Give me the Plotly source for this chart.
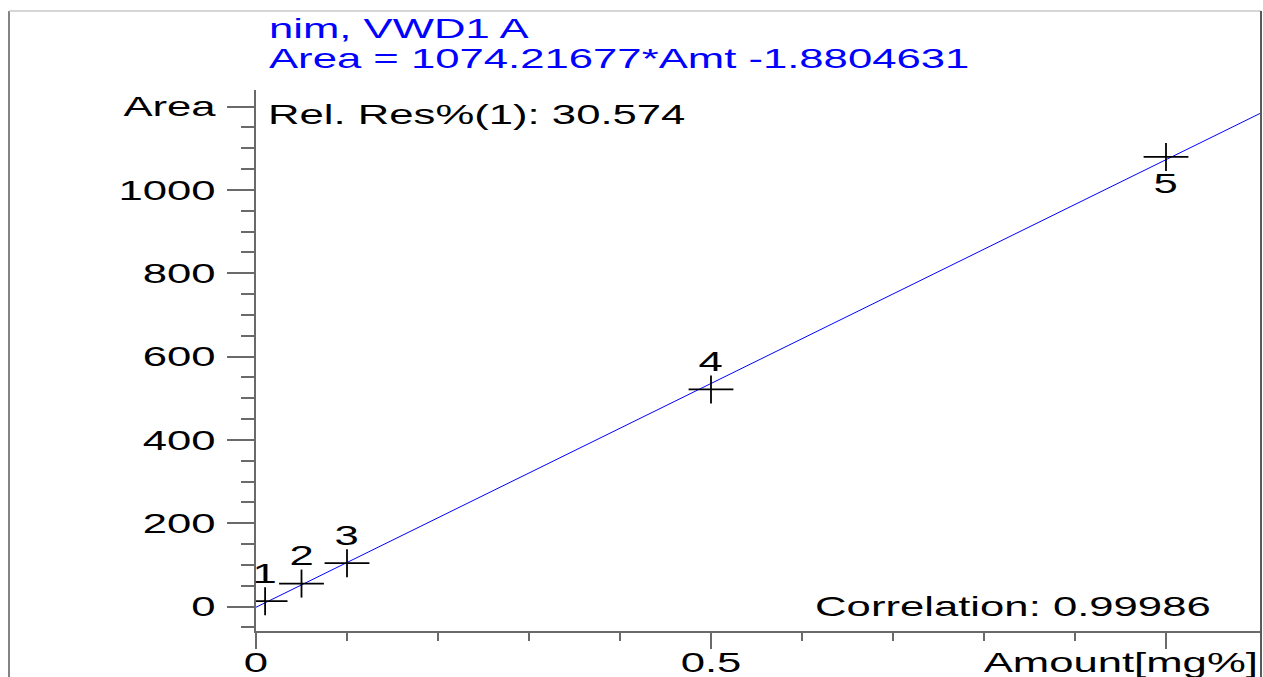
import plotly.graph_objects as go

# Calibration standards
amounts = [0.01, 0.05, 0.1, 0.5, 1.0]
areas = [12.8, 55, 104, 521, 1079]
point_labels = ["1", "2", "3", "4", "5"]
label_above = [True, True, True, True, False]

# Regression results
signal_name = "nim, VWD1 A"
slope = 1074.21677
intercept = -1.8804631
rel_res = "30.574"
correlation = "0.99986"

# Axis ticks
y_major = [0, 200, 400, 600, 800, 1000, 1200]
y_major_text = ["0", "200", "400", "600", "800", "1000", "Area"]
y_minor = [-50, 50, 100, 150, 250, 300, 350, 450, 500, 550, 650, 700, 750,
           850, 900, 950, 1050, 1100, 1150]
x_major = [0, 0.5, 1.0]
x_major_text = ["0", "0.5", ""]
x_minor = [0.1, 0.2, 0.3, 0.4, 0.6, 0.7, 0.8, 0.9]
x_title = "Amount[mg%]"

W, H = 1263, 677
ML, MR, MT, MB = 256, 2, 90, 46
PW, PH = W - ML - MR, H - MT - MB

X_RANGE = [0, 1.1044]
Y_RANGE = [-58.8, 1239.6]


def fx(px):
    return (px - ML) / PW


def fy(py):
    return (H - MB - py) / PH


FONT = "Liberation Sans, Arial, sans-serif"
AXIS_GRAY = "#6a6a6a"

fig = go.Figure()

# fitted calibration line across the whole amount range
fit_x = [X_RANGE[0], X_RANGE[1]]
fit_y = [slope * v + intercept for v in fit_x]
fig.add_trace(go.Scatter(x=fit_x, y=fit_y, mode="lines",
                         line=dict(color="#0000ff", width=1),
                         hoverinfo="skip"))

# crosses for the standards (wide horizontal arm, shorter vertical arm)
fig.add_trace(go.Scatter(x=amounts, y=areas, mode="markers",
                         marker=dict(symbol="line-ew", size=32,
                                     line=dict(color="black", width=1.8))))
fig.add_trace(go.Scatter(x=amounts, y=areas, mode="markers",
                         marker=dict(symbol="line-ns", size=20,
                                     line=dict(color="black", width=1.8))))

annotations = []
for ax_, ay_, lab, up in zip(amounts, areas, point_labels, label_above):
    annotations.append(dict(x=ax_, y=ay_, xref="x", yref="y", text=lab,
                            showarrow=False, xanchor="center",
                            yanchor="middle", yshift=28 if up else -27,
                            font=dict(family=FONT, size=28, color="black")))

blue_font = dict(family=FONT, size=28, color="#0000ff")
black_font = dict(family=FONT, size=28, color="black")
annotations += [
    dict(x=fx(267), y=fy(28), xref="paper", yref="paper", text=signal_name,
         showarrow=False, xanchor="left", yanchor="middle", align="left",
         font=blue_font),
    dict(x=fx(267), y=fy(59), xref="paper", yref="paper",
         text=f"Area = {slope}*Amt {intercept}",
         showarrow=False, xanchor="left", yanchor="middle", align="left",
         font=blue_font),
    dict(x=fx(266), y=fy(114), xref="paper", yref="paper",
         text=f"Rel. Res%(1): {rel_res}",
         showarrow=False, xanchor="left", yanchor="middle", align="left",
         font=black_font),
    dict(x=fx(1213), y=fy(606), xref="paper", yref="paper",
         text=f"Correlation: {correlation}",
         showarrow=False, xanchor="right", yanchor="middle", align="right",
         font=black_font),
    dict(x=fx(1260), y=fy(662), xref="paper", yref="paper", text=x_title,
         showarrow=False, xanchor="right", yanchor="middle", align="right",
         font=black_font),
]

shapes = [
    dict(type="line", xref="paper", yref="paper", x0=fx(9), x1=fx(9),
         y0=fy(11), y1=fy(H + 5), line=dict(color="#5a5a5a", width=1.5)),
    dict(type="line", xref="paper", yref="paper", x0=fx(9), x1=fx(1261),
         y0=fy(11), y1=fy(11), line=dict(color="#c8c8c8", width=1.5)),
    dict(type="line", xref="paper", yref="paper", x0=fx(1261), x1=fx(1261),
         y0=fy(11), y1=fy(H + 5), line=dict(color="#5a5a5a", width=2)),
]

fig.update_layout(
    width=W, height=H,
    margin=dict(l=ML, r=MR, t=MT, b=MB, autoexpand=False),
    paper_bgcolor="white", plot_bgcolor="white",
    showlegend=False,
    font=dict(family=FONT, size=28, color="black"),
    annotations=annotations,
    shapes=shapes,
    xaxis=dict(range=X_RANGE, showgrid=False, zeroline=False,
               automargin=False,
               showline=True, linecolor=AXIS_GRAY, linewidth=1.5,
               ticks="outside", ticklen=16, tickwidth=1.5,
               tickcolor=AXIS_GRAY, tickmode="array", tickvals=x_major,
               ticktext=x_major_text, ticklabelstandoff=-10,
               tickfont=dict(family=FONT, size=28, color="black"),
               minor=dict(tickmode="array", tickvals=x_minor, ticks="outside",
                          ticklen=8, tickwidth=1.5, tickcolor=AXIS_GRAY,
                          showgrid=False)),
    yaxis=dict(range=Y_RANGE, showgrid=False, zeroline=False,
               automargin=False,
               showline=True, linecolor=AXIS_GRAY, linewidth=1.5,
               ticks="outside", ticklen=27, tickwidth=1.5,
               tickcolor=AXIS_GRAY, tickmode="array", tickvals=y_major,
               ticktext=y_major_text, ticklabelstandoff=6,
               tickfont=dict(family=FONT, size=28, color="black"),
               minor=dict(tickmode="array", tickvals=y_minor, ticks="outside",
                          ticklen=13, tickwidth=1.5, tickcolor=AXIS_GRAY,
                          showgrid=False)),
)

# widen every label horizontally around its anchor point
stretch_js = """
var gd = document.getElementById('{plot_id}');
var s = 1.56;
gd.querySelectorAll('svg text').forEach(function(t) {
  if (!t.textContent.trim() || t.getAttribute('data-wide')) return;
  var x = parseFloat(t.getAttribute('x')) || 0;
  var tr = t.getAttribute('transform') || '';
  t.setAttribute('transform', tr + ' translate(' + x + ',0) scale(' + s +
                 ',1) translate(' + (-x) + ',0)');
  t.setAttribute('data-wide', '1');
});
"""

fig.write_html("out.html", config={"displayModeBar": False},
               post_script=stretch_js)
